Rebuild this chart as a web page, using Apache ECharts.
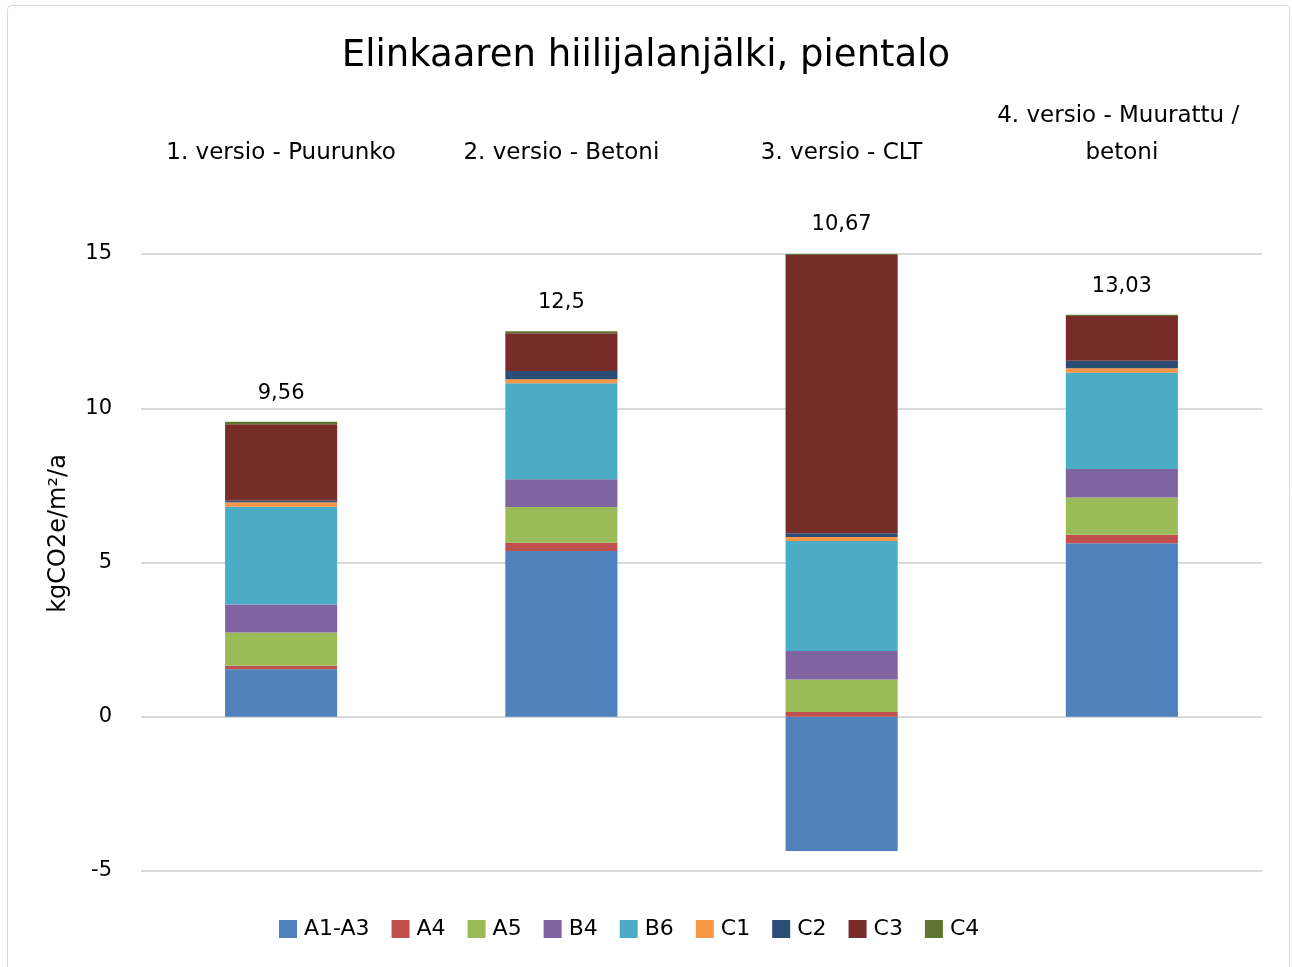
<!DOCTYPE html>
<html>
<head>
<meta charset="utf-8">
<title>Elinkaaren hiilijalanjälki, pientalo</title>
<script src="https://cdn.jsdelivr.net/npm/echarts@6/dist/echarts.min.js"></script>
<style>
  html, body { margin: 0; padding: 0; background: #fff; }
  #chart { width: 1292px; height: 967px; }
</style>
</head>
<body>
<div id="chart"></div>
<script>
// Building versions (categories) and life-cycle stage contributions, kgCO2e/m²/a
const categories = [
  '1. versio - Puurunko',
  '2. versio - Betoni',
  '3. versio - CLT',
  '4. versio - Muurattu / betoni'
];
const stages = ['A1-A3', 'A4', 'A5', 'B4', 'B6', 'C1', 'C2', 'C3', 'C4'];

const a1a3 = [1.54, 5.37, -4.35, 5.62];
const a4   = [0.11, 0.27, 0.15, 0.28];
const a5   = [1.08, 1.16, 1.06, 1.21];
const b4   = [0.91, 0.90, 0.92, 0.92];
const b6   = [3.17, 3.11, 3.57, 3.12];
const c1   = [0.14, 0.13, 0.13, 0.15];
const c2   = [0.06, 0.27, 0.12, 0.24];
const c3   = [2.47, 1.22, 9.02, 1.45];
const c4   = [0.08, 0.07, 0.05, 0.04];

const yTicks = [-5, 0, 5, 10, 15];

const stageValues = [a1a3, a4, a5, b4, b6, c1, c2, c3, c4];
const stageColors = ['#4f81bd', '#c0504d', '#9bbb59', '#8064a2', '#4bacc6',
                     '#f79646', '#2c4d75', '#772c2a', '#5f7530'];

// Net total per version, and the top of the positive part of each stack
const netTotals = categories.map((_, i) =>
  Math.round(stageValues.reduce((s, arr) => s + arr[i], 0) * 100) / 100);
const positiveTops = categories.map((_, i) =>
  stageValues.reduce((s, arr) => s + Math.max(arr[i], 0), 0));

const fmt = v => String(Math.round(v * 100) / 100).replace('.', ',');

const FONT = 'DejaVu Sans';

const series = stages.map((name, k) => ({
  name,
  type: 'bar',
  stack: 'total',
  barWidth: '40%',
  data: stageValues[k],
  itemStyle: { color: stageColors[k] },
  emphasis: { disabled: true }
}));

// Net total written above the positive part of each stack
series.push({
  name: 'Yhteensä',
  type: 'scatter',
  data: positiveTops.map((v, i) => ({ value: v, total: netTotals[i] })),
  symbol: 'rect',
  symbolSize: 0,
  clip: false,
  itemStyle: { color: '#000' },
  silent: true,
  emphasis: { disabled: true },
  label: {
    show: true,
    position: 'top',
    distance: 18,
    color: '#000',
    opacity: 1,
    textBorderWidth: 0,
    fontFamily: FONT,
    fontSize: 21,
    formatter: p => fmt(p.data.total)
  }
});

const chart = echarts.init(document.getElementById('chart'), null, { renderer: 'canvas' });

chart.setOption({
  animation: false,
  backgroundColor: '#fff',
  textStyle: { fontFamily: FONT, color: '#000' },
  graphic: [{
    type: 'rect',
    shape: { x: 7.5, y: 5.5, width: 1282, height: 990, r: 4 },
    style: { fill: 'none', stroke: '#d9d9d9', lineWidth: 1 },
    silent: true
  }],
  title: {
    text: 'Elinkaaren hiilijalanjälki, pientalo',
    left: 'center',
    top: 33,
    textStyle: { fontFamily: FONT, fontSize: 37, fontWeight: 'normal', color: '#000' }
  },
  legend: {
    data: stages,
    left: 274,
    top: 913,
    itemWidth: 18,
    itemHeight: 18,
    itemGap: 22,
    icon: 'rect',
    textStyle: { fontFamily: FONT, fontSize: 22, color: '#000', padding: [0, 0, 0, 2] }
  },
  grid: { left: 141, right: 30, top: 254, bottom: 96, containLabel: false },
  xAxis: {
    type: 'category',
    data: categories,
    position: 'top',
    axisLine: { show: false },
    axisTick: { show: false },
    axisLabel: {
      margin: 82,
      interval: 0,
      fontFamily: FONT,
      fontSize: 23,
      color: '#000',
      lineHeight: 37,
      width: 275,
      overflow: 'break'
    }
  },
  yAxis: {
    type: 'value',
    min: yTicks[0],
    max: yTicks[yTicks.length - 1],
    interval: 5,
    name: 'kgCO2e/m²/a',
    nameLocation: 'middle',
    nameGap: 70,
    nameTextStyle: { fontFamily: FONT, fontSize: 24, color: '#000', padding: [0, 0, 0, 58] },
    axisLine: { show: false },
    axisTick: { show: false },
    axisLabel: { margin: 29, fontFamily: FONT, fontSize: 21, color: '#000' },
    splitLine: { lineStyle: { color: '#d9d9d9', width: 2 } }
  },
  series
});
</script>
</body>
</html>
